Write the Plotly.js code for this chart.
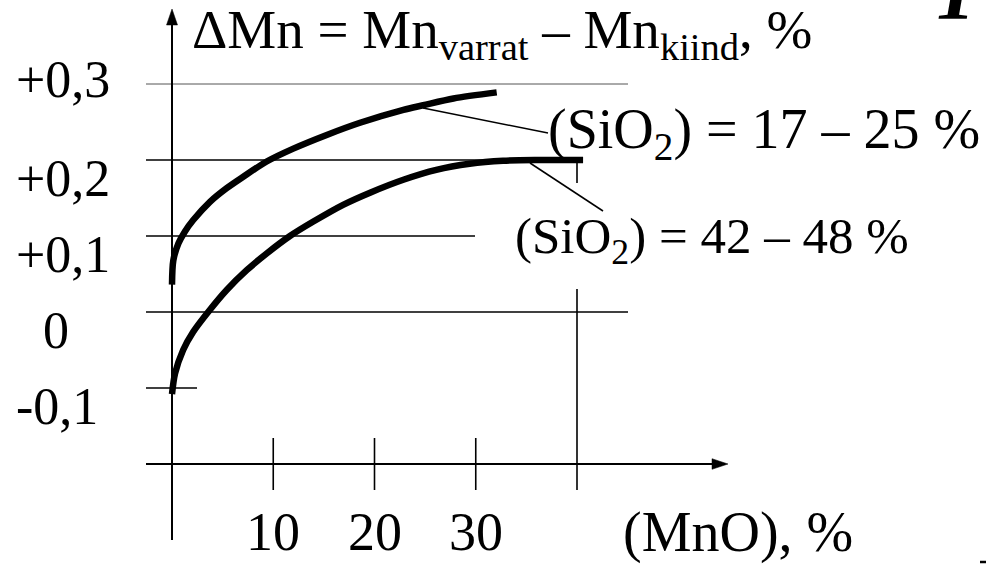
<!DOCTYPE html>
<html>
<head>
<meta charset="utf-8">
<script src="https://cdn.plot.ly/plotly-3.0.1.min.js"></script>
<style>
html,body{margin:0;padding:0;background:#fff;}
#chart{width:986px;height:564px;}
</style>
</head>
<body>
<div id="chart"></div>
<script>
// ---- data ----
const upperX = [0, 0.13, 0.63, 1.28, 2.1, 3.75, 5.4, 7.04, 9.35, 11.98, 15.28, 18.57, 22.85, 24.8, 27.8, 32.07];
const upperY = [0.036, 0.068, 0.090, 0.106, 0.121, 0.145, 0.163, 0.178, 0.198, 0.215, 0.233, 0.249, 0.266, 0.272, 0.281, 0.289];
const lowerX = [0, 0.3, 1.1, 2.1, 3.75, 5.4, 7.38, 9.35, 11.65, 13.96, 16.9, 19.56, 22.85, 26.1, 29.4, 32.7, 36.0, 40.6];
const lowerY = [-0.108, -0.081, -0.050, -0.026, 0.003, 0.029, 0.055, 0.077, 0.100, 0.119, 0.141, 0.157, 0.174, 0.187, 0.195, 0.199, 0.200, 0.200];
const seriesNames = ["(SiO<sub>2</sub>) = 17 – 25 %", "(SiO<sub>2</sub>) = 42 – 48 %"];
const xTickVals = [10, 20, 30];
const xTickLabels = ["10", "20", "30"];
const yTickVals = [0.3, 0.2, 0.1, 0, -0.1];
const yTickLabels = ["+0,3", "+0,2", "+0,1", "0", "-0,1"];
const xTitle = "(MnO), %";
const yTitle = "ΔMn = Mn<sub>varrat</sub> – Mn<sub>kiind</sub>, %";

// ---- layout geometry (pixels of the 986x564 page) ----
const W = 986, H = 564;
const X0 = 172, XS = 10.125;   // pixel of x=0, pixels per unit
const Y0 = 312, YS = 760;      // pixel of y=0, pixels per unit
const dx = p => (p - X0) / XS;
const dy = p => (Y0 - p) / YS;
const FONT = "Liberation Serif, 'Times New Roman', Times, serif";
const ink = "#000";

const traces = [
  {x: upperX, y: upperY, mode: "lines", line: {color: ink, width: 6.5, shape: "spline", smoothing: 0.8}, name: seriesNames[0], hoverinfo: "skip"},
  {x: lowerX, y: lowerY, mode: "lines", line: {color: ink, width: 6.5, shape: "spline", smoothing: 0.8}, name: seriesNames[1], hoverinfo: "skip"}
];

const shapes = [];
function seg(x0, y0, x1, y1, w, c) {
  shapes.push({type: "line", xref: "x", yref: "y", x0, y0, x1, y1, layer: "below", line: {color: c || ink, width: w}});
}
// gridlines (extents differ as in the drawing)
const gridEnds = [dx(628), dx(583), dx(475), dx(628), dx(197)];
const gridW = [1, 1.6, 1.6, 1.6, 1.6];
const gridC = ["#555", ink, ink, ink, ink];
yTickVals.forEach((v, i) => seg(dx(146), v, gridEnds[i], v, gridW[i], gridC[i]));
// y axis + arrow
seg(0, dy(540), 0, dy(24), 2);
shapes.push({type: "path", xref: "x", yref: "y", path: `M ${dx(X0-5.5)} ${dy(25)} L 0 ${dy(9)} L ${dx(X0+5.5)} ${dy(25)} Z`, fillcolor: ink, line: {color: ink, width: 0.5}});
// x axis + arrow
const xAxisY = dy(464);
seg(dx(146), xAxisY, dx(714), xAxisY, 2);
shapes.push({type: "path", xref: "x", yref: "y", path: `M ${dx(712)} ${dy(458.7)} L ${dx(728)} ${xAxisY} L ${dx(712)} ${dy(469.3)} Z`, fillcolor: ink, line: {color: ink, width: 0.5}});
// x ticks
xTickVals.forEach(v => seg(v, dy(438), v, dy(490), 1.6));
// long line at 40
seg(40, dy(160), 40, dy(183), 1.6);
seg(40, dy(289), 40, dy(490), 1.6);
// leader lines
seg(dx(423), dy(108), dx(548), dy(133), 1.5);
seg(dx(530), dy(163), dx(603), dy(211), 1.5);
// small mark at the bottom-right corner
shapes.push({type: "line", xref: "paper", yref: "paper", x0: 980 / W, x1: 986 / W, y0: 1 - 562 / H, y1: 1 - 562 / H, line: {color: ink, width: 2.5}});

const annotations = [];
function txt(text, x, y, size, xanchor, extra) {
  annotations.push(Object.assign({text, xref: "x", yref: "y", x, y, xanchor: xanchor || "left", yanchor: "middle",
    showarrow: false, font: {family: FONT, size, color: ink}}, extra || {}));
}
// y tick labels
const yLabLeft = [14, 14, 14, 41, 14];
const yLabOff = [-5, 18, 18.5, 18, 18];
yTickVals.forEach((v, i) => txt(yTickLabels[i], dx(yLabLeft[i]), v - yLabOff[i] / YS, 52, "left"));
// x tick labels
xTickVals.forEach((v, i) => txt(xTickLabels[i], v, dy(532), 54, "center"));
txt(xTitle, dx(621), dy(532), 56, "left");
// y title
txt(yTitle, dx(190), dy(33), 55, "left");
// curve labels
txt(seriesNames[0], dx(546), dy(133), 56, "left");
txt(seriesNames[1], dx(513), dy(240), 51, "left");
// cut-off letter at top right
annotations.push({text: "<b><i>T</i></b>", xref: "paper", yref: "paper", x: 930 / W, y: 1 + 8 / H,
  xanchor: "left", yanchor: "middle", showarrow: false, font: {family: FONT, size: 80, color: ink}});

const layout = {
  width: W, height: H, autosize: false,
  margin: {l: 0, r: 0, t: 0, b: 0, pad: 0},
  paper_bgcolor: "#fff", plot_bgcolor: "#fff",
  showlegend: false,
  xaxis: {range: [dx(0), dx(W)], visible: false, fixedrange: true},
  yaxis: {range: [dy(H), dy(0)], visible: false, fixedrange: true},
  shapes, annotations
};
Plotly.newPlot("chart", traces, layout, {staticPlot: true, displayModeBar: false});
</script>
</body>
</html>
